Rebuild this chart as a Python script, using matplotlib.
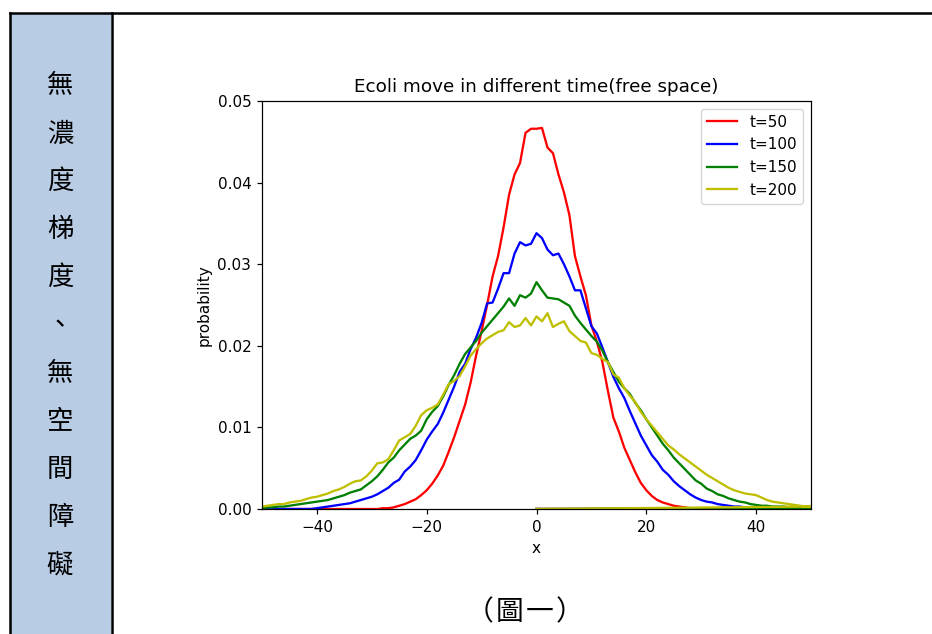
import numpy as np
import matplotlib
matplotlib.use('Agg')
import matplotlib.pyplot as plt
from matplotlib.lines import Line2D
from matplotlib.patches import Rectangle

# x positions of the histogram bins (the data also ends with a stray (0, 0) point)
x = list(range(-50, 51)) + [0]

p_t50 = [0.0] * 21 + [
    0.0000, 0.0001, 0.0001, 0.0002, 0.0004, 0.0006, 0.0009, 0.0012, 0.0017, 0.0023,
    0.0031, 0.0041, 0.0053, 0.0070, 0.0088, 0.0108, 0.0128, 0.0155, 0.0188, 0.0218,
    0.0250, 0.0285, 0.0310, 0.0345, 0.0385, 0.0410, 0.0424, 0.0461, 0.0466, 0.0466,
    0.0467, 0.0443, 0.0436, 0.0410, 0.0388, 0.0360, 0.0310, 0.0285, 0.0262, 0.0225,
    0.0205, 0.0180, 0.0145, 0.0112, 0.0095, 0.0075, 0.0060, 0.0045, 0.0032, 0.0023,
    0.0016, 0.0011, 0.0008, 0.0006, 0.0004, 0.0003, 0.0002, 0.0001] + [0.0] * 22 + [0.0]

p_t100 = [0.0] * 10 + [
    0.0001, 0.0002, 0.0003, 0.0004, 0.0005, 0.0006, 0.0007, 0.0009, 0.0011, 0.0013,
    0.0015, 0.0018, 0.0022, 0.0026, 0.0032, 0.0036, 0.0046, 0.0052, 0.0060, 0.0072,
    0.0085, 0.0095, 0.0104, 0.0118, 0.0134, 0.0150, 0.0168, 0.0178, 0.0196, 0.0210,
    0.0228, 0.0252, 0.0253, 0.0270, 0.0289, 0.0289, 0.0313, 0.0327, 0.0323, 0.0325,
    0.0338, 0.0332, 0.0318, 0.0311, 0.0313, 0.0300, 0.0285, 0.0268, 0.0268, 0.0246,
    0.0224, 0.0215, 0.0198, 0.0180, 0.0162, 0.0148, 0.0136, 0.0120, 0.0105, 0.0090,
    0.0078, 0.0066, 0.0058, 0.0048, 0.0042, 0.0034, 0.0028, 0.0023, 0.0018, 0.0014,
    0.0011, 0.0009, 0.0008, 0.0006, 0.0005, 0.0004, 0.0003, 0.0003, 0.0002, 0.0001,
    0.0001] + [0.0] * 10 + [0.0]

p_t150 = [
    0.0001, 0.0002, 0.0002, 0.0003, 0.0003, 0.0004, 0.0005, 0.0006, 0.0007, 0.0008,
    0.0009, 0.0010, 0.0011, 0.0013, 0.0015, 0.0017, 0.0020, 0.0022, 0.0024, 0.0029,
    0.0034, 0.0040, 0.0048, 0.0057, 0.0063, 0.0072, 0.0079, 0.0086, 0.0090, 0.0096,
    0.0110, 0.0119, 0.0126, 0.0138, 0.0152, 0.0164, 0.0178, 0.0190, 0.0198, 0.0206,
    0.0216, 0.0224, 0.0232, 0.0240, 0.0248, 0.0258, 0.0249, 0.0262, 0.0259, 0.0264,
    0.0278, 0.0268, 0.0259, 0.0258, 0.0257, 0.0253, 0.0249, 0.0237, 0.0228, 0.0220,
    0.0212, 0.0205, 0.0194, 0.0180, 0.0168, 0.0156, 0.0148, 0.0141, 0.0130, 0.0121,
    0.0110, 0.0100, 0.0090, 0.0080, 0.0072, 0.0063, 0.0056, 0.0049, 0.0042, 0.0035,
    0.0031, 0.0025, 0.0022, 0.0018, 0.0016, 0.0013, 0.0011, 0.0009, 0.0008, 0.0006,
    0.0005, 0.0004, 0.0004, 0.0003, 0.0003, 0.0003, 0.0002, 0.0002, 0.0002, 0.0001,
    0.0001, 0.0]

p_t200 = [
    0.0003, 0.0004, 0.0005, 0.0006, 0.0006, 0.0008, 0.0009, 0.0010, 0.0012, 0.0014,
    0.0015, 0.0017, 0.0019, 0.0022, 0.0024, 0.0027, 0.0031, 0.0034, 0.0035, 0.0040,
    0.0047, 0.0056, 0.0057, 0.0061, 0.0072, 0.0084, 0.0088, 0.0092, 0.0102, 0.0115,
    0.0121, 0.0124, 0.0128, 0.0140, 0.0153, 0.0157, 0.0163, 0.0175, 0.0188, 0.0196,
    0.0203, 0.0209, 0.0213, 0.0217, 0.0219, 0.0229, 0.0223, 0.0225, 0.0234, 0.0225,
    0.0236, 0.0230, 0.0240, 0.0223, 0.0227, 0.0230, 0.0218, 0.0212, 0.0206, 0.0204,
    0.0191, 0.0189, 0.0184, 0.0180, 0.0165, 0.0161, 0.0148, 0.0139, 0.0131, 0.0119,
    0.0110, 0.0102, 0.0094, 0.0086, 0.0078, 0.0073, 0.0067, 0.0062, 0.0057, 0.0052,
    0.0047, 0.0042, 0.0038, 0.0034, 0.0030, 0.0026, 0.0023, 0.0021, 0.0019, 0.0018,
    0.0017, 0.0014, 0.0011, 0.0009, 0.0008, 0.0007, 0.0006, 0.0005, 0.0004, 0.0003,
    0.0003, 0.0]

series = [('t=50', p_t50, 'r'), ('t=100', p_t100, 'b'),
          ('t=150', p_t150, 'g'), ('t=200', p_t200, 'y')]

side_text = ['無', '濃', '度', '梯', '度', '、', '無', '空', '間', '障', '礙']
caption = ['（', '圖', '一', '）']

# the chart was pasted into the document about 1.1x its native size
s = 1.1
plt.rcParams.update({
    'font.size': 10 * s,
    'axes.titlesize': 12 * s,
    'axes.linewidth': 0.8 * s,
    'lines.linewidth': 1.5 * s,
    'xtick.major.size': 3.5 * s,
    'ytick.major.size': 3.5 * s,
    'xtick.major.width': 0.8 * s,
    'ytick.major.width': 0.8 * s,
    'xtick.major.pad': 3.5 * s,
    'ytick.major.pad': 3.5 * s,
    'axes.titlepad': 6 * s,
    'axes.labelpad': 4 * s,
})
cjk = ['Noto Sans CJK TC', 'DejaVu Sans']

W, H = 932, 634
fig = plt.figure(figsize=(W / 100, H / 100), dpi=100)
fig.patch.set_facecolor('white')

# table frame of the document
fig.add_artist(Rectangle((11 / W, 0), 100 / W, (H - 14) / H, transform=fig.transFigure,
                         facecolor='#b8cce4', edgecolor='none'))
for xs, ys in [([10 / W, 1], [1 - 13 / H, 1 - 13 / H]),
               ([10 / W, 10 / W], [0, 1 - 13 / H]),
               ([112 / W, 112 / W], [0, 1 - 13 / H])]:
    fig.add_artist(Line2D(xs, ys, transform=fig.transFigure, color='black', lw=1.8))

for i, ch in enumerate(side_text):
    fig.text(60 / W, 1 - (86 + i * 47.9) / H, ch, ha='center', va='center',
             fontsize=19, family=cjk)

for i, ch in enumerate(caption):
    fig.text((480 + i * 30) / W, 1 - 612 / H, ch, ha='center', va='center',
             fontsize=20, family=cjk)

ax = fig.add_axes([262 / W, 125 / H, 549 / W, 408 / H])
for label, p, c in series:
    ax.plot(x, p, color=c, label=label)

ax.set_xlim(-50, 50)
ax.set_ylim(0, 0.05)
ax.set_xticks([-40, -20, 0, 20, 40])
ax.set_yticks([0.0, 0.01, 0.02, 0.03, 0.04, 0.05])
ax.yaxis.set_major_formatter(matplotlib.ticker.FormatStrFormatter('%.2f'))
ax.set_xlabel('x')
ax.set_ylabel('probability')
ax.set_title('Ecoli move in different time(free space)')
ax.legend(loc='upper right')

fig.savefig('out.png', dpi=100)
